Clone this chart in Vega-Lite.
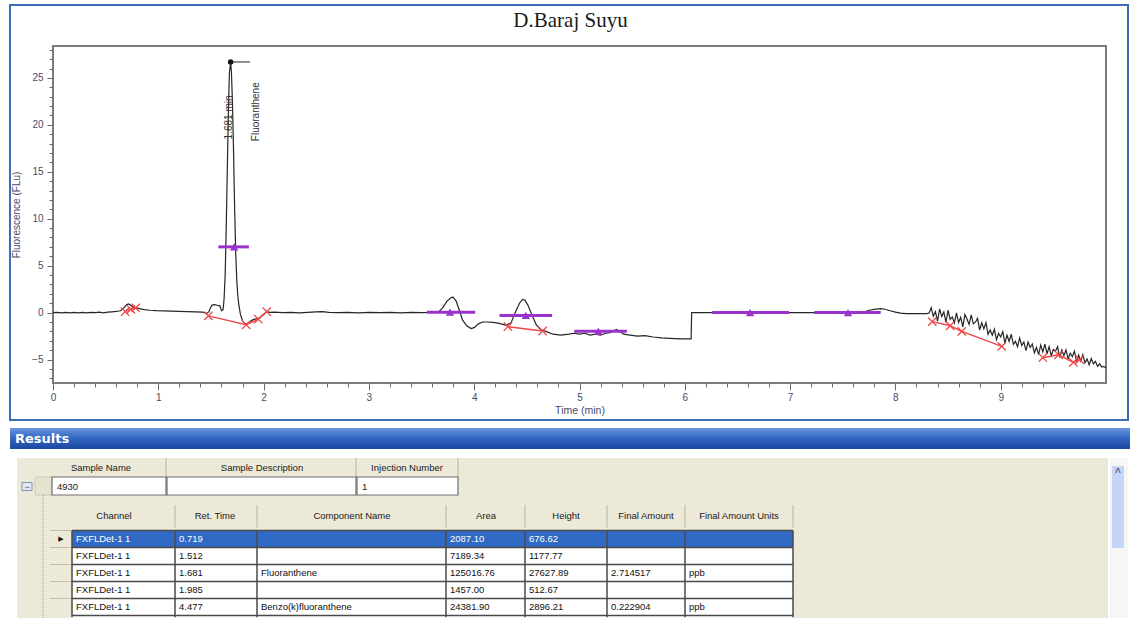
{
  "$schema": "https://vega.github.io/schema/vega-lite/v6.json",
  "background": "white",
  "padding": {"left": 9, "top": 4, "right": 0, "bottom": 0},
  "config": {"view": {"stroke": null}, "font": "Liberation Sans"},
  "bounds": "flush",
  "spacing": 45,
  "datasets": {
    "trace": [
      {"t":0,"v":0},{"t":0.04,"v":0.02},{"t":0.08,"v":-0.03},{"t":0.12,"v":0.02},{"t":0.16,"v":-0.02},{"t":0.2,"v":0.03},{"t":0.24,"v":-0.02},{"t":0.28,"v":0.02},{"t":0.32,"v":-0.03},{"t":0.36,"v":0.03},{"t":0.4,"v":0},{"t":0.44,"v":0.04},{"t":0.48,"v":-0.02},{"t":0.52,"v":0.04},{"t":0.56,"v":0.08},{"t":0.6,"v":0.12},{"t":0.64,"v":0.2},{"t":0.67,"v":0.45},{"t":0.7,"v":0.85},{"t":0.72,"v":0.92},{"t":0.74,"v":0.75},{"t":0.76,"v":0.55},{"t":0.79,"v":0.5},{"t":0.83,"v":0.4},{"t":0.87,"v":0.32},{"t":0.92,"v":0.25},{"t":0.98,"v":0.2},{"t":1.05,"v":0.18},{"t":1.12,"v":0.15},{"t":1.2,"v":0.12},{"t":1.28,"v":0.1},{"t":1.35,"v":0.08},{"t":1.42,"v":0.05},{"t":1.46,"v":-0.08},{"t":1.48,"v":0.1},{"t":1.495,"v":0.5},{"t":1.51,"v":0.8},{"t":1.535,"v":0.85},{"t":1.56,"v":0.78},{"t":1.585,"v":0.72},{"t":1.6,"v":0.2},{"t":1.615,"v":0.3},{"t":1.625,"v":1.5},{"t":1.635,"v":4},{"t":1.645,"v":9},{"t":1.655,"v":15},{"t":1.665,"v":21},{"t":1.675,"v":25.5},{"t":1.687,"v":26.7},{"t":1.695,"v":25.5},{"t":1.705,"v":22},{"t":1.715,"v":17},{"t":1.725,"v":11},{"t":1.735,"v":6.5},{"t":1.745,"v":3.5},{"t":1.755,"v":1.8},{"t":1.765,"v":0.8},{"t":1.78,"v":-0.2},{"t":1.8,"v":-0.9},{"t":1.83,"v":-1.25},{"t":1.86,"v":-1.05},{"t":1.9,"v":-0.75},{"t":1.94,"v":-0.65},{"t":1.97,"v":-0.5},{"t":2,"v":-0.2},{"t":2.03,"v":0.1},{"t":2.06,"v":0.02},{"t":2.1,"v":0.05},{"t":2.18,"v":0},{"t":2.26,"v":0.03},{"t":2.34,"v":-0.02},{"t":2.42,"v":0.03},{"t":2.5,"v":0.08},{"t":2.56,"v":0.1},{"t":2.62,"v":0.03},{"t":2.7,"v":0},{"t":2.8,"v":0.03},{"t":2.9,"v":-0.02},{"t":3,"v":0.02},{"t":3.1,"v":0},{"t":3.2,"v":0.02},{"t":3.3,"v":-0.02},{"t":3.4,"v":0.02},{"t":3.5,"v":0},{"t":3.6,"v":0.01},{"t":3.66,"v":0.05},{"t":3.7,"v":0.5},{"t":3.74,"v":1.2},{"t":3.78,"v":1.6},{"t":3.8,"v":1.65},{"t":3.83,"v":1.2},{"t":3.86,"v":0.2},{"t":3.89,"v":-0.8},{"t":3.93,"v":-1.4},{"t":3.97,"v":-1.7},{"t":4,"v":-1.6},{"t":4.04,"v":-1.2},{"t":4.08,"v":-1.0},{"t":4.12,"v":-1.0},{"t":4.18,"v":-1.05},{"t":4.24,"v":-1.15},{"t":4.3,"v":-1.35},{"t":4.35,"v":-1.1},{"t":4.39,"v":0},{"t":4.43,"v":1.0},{"t":4.46,"v":1.4},{"t":4.48,"v":1.35},{"t":4.51,"v":0.8},{"t":4.55,"v":-0.3},{"t":4.59,"v":-1.3},{"t":4.63,"v":-1.8},{"t":4.68,"v":-2.0},{"t":4.75,"v":-2.3},{"t":4.82,"v":-2.4},{"t":4.9,"v":-2.3},{"t":4.95,"v":-2.2},{"t":5,"v":-2.3},{"t":5.05,"v":-2.2},{"t":5.1,"v":-2.4},{"t":5.15,"v":-2.3},{"t":5.2,"v":-2.4},{"t":5.25,"v":-2.2},{"t":5.3,"v":-2.1},{"t":5.35,"v":-1.8},{"t":5.38,"v":-2.0},{"t":5.42,"v":-2.3},{"t":5.48,"v":-2.4},{"t":5.55,"v":-2.5},{"t":5.62,"v":-2.45},{"t":5.7,"v":-2.6},{"t":5.78,"v":-2.7},{"t":5.86,"v":-2.75},{"t":5.95,"v":-2.8},{"t":6.06,"v":-2.8},{"t":6.065,"v":0},{"t":6.2,"v":0},{"t":6.4,"v":0.01},{"t":6.6,"v":0},{"t":6.8,"v":0.01},{"t":7,"v":0},{"t":7.2,"v":0},{"t":7.4,"v":0.01},{"t":7.6,"v":0.02},{"t":7.7,"v":0.05},{"t":7.75,"v":0.25},{"t":7.8,"v":0.35},{"t":7.86,"v":0.42},{"t":7.9,"v":0.36},{"t":7.95,"v":0.2},{"t":8,"v":0.05},{"t":8.05,"v":-0.05},{"t":8.1,"v":-0.1},{"t":8.2,"v":-0.1},{"t":8.3,"v":-0.1},{"t":8.32,"v":-0.05},
      {"t":8.34,"v":0.52},{"t":8.36,"v":-0.39},{"t":8.38,"v":0.1},{"t":8.4,"v":-0.91},{"t":8.42,"v":0.39},{"t":8.44,"v":-0.42},{"t":8.46,"v":0.07},{"t":8.48,"v":-1.04},{"t":8.5,"v":0.25},{"t":8.52,"v":-0.73},{"t":8.54,"v":-0.46},{"t":8.56,"v":-1.1},{"t":8.58,"v":-0.03},{"t":8.6,"v":-1.06},{"t":8.62,"v":-0.49},{"t":8.64,"v":-1.52},{"t":8.66,"v":-0.21},{"t":8.68,"v":-0.69},{"t":8.7,"v":-1.27},{"t":8.72,"v":-0.25},{"t":8.74,"v":-1.18},{"t":8.76,"v":-1.02},{"t":8.78,"v":-0.61},{"t":8.8,"v":-1.85},{"t":8.82,"v":-1.09},{"t":8.84,"v":-1.73},{"t":8.86,"v":-1.07},{"t":8.88,"v":-2.31},{"t":8.9,"v":-1.85},{"t":8.92,"v":-2.39},{"t":8.94,"v":-1.78},{"t":8.96,"v":-2.89},{"t":8.98,"v":-2.22},{"t":9,"v":-2.6},{"t":9.02,"v":-2.03},{"t":9.04,"v":-3.26},{"t":9.06,"v":-2.39},{"t":9.08,"v":-3.07},{"t":9.1,"v":-2.3},{"t":9.12,"v":-3.38},{"t":9.14,"v":-3.06},{"t":9.16,"v":-3.64},{"t":9.18,"v":-2.72},{"t":9.2,"v":-3.5},{"t":9.22,"v":-3.13},{"t":9.24,"v":-4.06},{"t":9.26,"v":-3.14},{"t":9.28,"v":-3.72},{"t":9.3,"v":-3.35},{"t":9.32,"v":-4.28},{"t":9.34,"v":-3.71},{"t":9.36,"v":-4.47},{"t":9.38,"v":-3.45},{"t":9.4,"v":-4.18},{"t":9.42,"v":-3.36},{"t":9.44,"v":-4.39},{"t":9.46,"v":-3.62},{"t":9.48,"v":-4.6},{"t":9.5,"v":-3.93},{"t":9.52,"v":-4.11},{"t":9.54,"v":-3.64},{"t":9.56,"v":-4.78},{"t":9.58,"v":-3.99},{"t":9.6,"v":-4.6},{"t":9.62,"v":-3.96},{"t":9.64,"v":-4.92},{"t":9.66,"v":-4.33},{"t":9.68,"v":-4.69},{"t":9.7,"v":-4.1},{"t":9.72,"v":-5.16},{"t":9.74,"v":-4.52},{"t":9.76,"v":-5.14},{"t":9.78,"v":-4.47},{"t":9.8,"v":-5.35},{"t":9.82,"v":-4.93},{"t":9.84,"v":-5.56},{"t":9.86,"v":-4.89},{"t":9.88,"v":-5.47},{"t":9.9,"v":-5.2},{"t":9.92,"v":-5.73},{"t":9.94,"v":-5.46},{"t":9.96,"v":-5.81},{"t":9.98,"v":-5.73},{"t":10,"v":-5.9}
    ],
    "baselines": [
      {"seg":"a","t":0.685,"v":0.1},{"seg":"a","t":0.74,"v":0.35},{"seg":"a","t":0.785,"v":0.5},
      {"seg":"b","t":1.475,"v":-0.35},{"seg":"b","t":1.835,"v":-1.3},{"seg":"b","t":1.95,"v":-0.7},{"seg":"b","t":2.03,"v":0.1},
      {"seg":"c","t":4.32,"v":-1.5},{"seg":"c","t":4.65,"v":-1.96},
      {"seg":"d","t":8.35,"v":-0.96},{"seg":"d","t":8.52,"v":-1.4},{"seg":"d","t":8.63,"v":-2.0},{"seg":"d","t":9.01,"v":-3.6},
      {"seg":"e","t":9.4,"v":-4.8},{"seg":"e","t":9.55,"v":-4.5},{"seg":"e","t":9.69,"v":-5.3},{"seg":"e","t":9.75,"v":-5.0}
    ],
    "peaks": [
      {"start":1.57,"end":1.86,"apex":1.72,"level":7.0},
      {"start":3.55,"end":4.01,"apex":3.77,"level":0.05},
      {"start":4.24,"end":4.74,"apex":4.49,"level":-0.3},
      {"start":4.95,"end":5.45,"apex":5.18,"level":-2.0},
      {"start":6.26,"end":6.99,"apex":6.62,"level":0.0},
      {"start":7.23,"end":7.86,"apex":7.55,"level":0.0}
    ],
    "apex": [{"t":1.687,"v":26.7,"tEnd":1.87}],
    "labels": [
      {"t":1.672,"v":18.45,"text":"1.681 min"},
      {"t":1.928,"v":18.26,"text":"Fluoranthene"}
    ],
    "columns": [
      {"key":"channel","title":"Channel","left":3,"head":4,"right":5},
      {"key":"rt","title":"Ret. Time","left":5,"head":6,"right":7},
      {"key":"name","title":"Component Name","left":7,"head":8,"right":9},
      {"key":"area","title":"Area","left":9,"head":10,"right":11},
      {"key":"height","title":"Height","left":11,"head":12,"right":13},
      {"key":"amount","title":"Final Amount","left":13,"head":14,"right":15},
      {"key":"units","title":"Final Amount Units","left":15,"head":16,"right":17}
    ],
    "results": [
      {"row":0,"channel":"FXFLDet-1 1","rt":"0.719","name":"","area":"2087.10","height":"676.62","amount":"","units":""},
      {"row":1,"channel":"FXFLDet-1 1","rt":"1.512","name":"","area":"7189.34","height":"1177.77","amount":"","units":""},
      {"row":2,"channel":"FXFLDet-1 1","rt":"1.681","name":"Fluoranthene","area":"125016.76","height":"27627.89","amount":"2.714517","units":"ppb"},
      {"row":3,"channel":"FXFLDet-1 1","rt":"1.985","name":"","area":"1457.00","height":"512.67","amount":"","units":""},
      {"row":4,"channel":"FXFLDet-1 1","rt":"4.477","name":"Benzo(k)fluoranthene","area":"24381.90","height":"2896.21","amount":"0.222904","units":"ppb"}
    ],
    "sample": [
      {"title":"Sample Name","value":"4930","left":4,"center":5,"right":6},
      {"title":"Sample Description","value":"","left":7,"center":8,"right":9},
      {"title":"Injection Number","value":"1","left":10,"center":11,"right":12}
    ]
  },
  "vconcat": [
    {
      "width": 1053,
      "height": 337,
      "title": {"text": "D.Baraj Suyu", "font": "Liberation Serif", "fontSize": 21, "fontWeight": "normal", "color": "#1a1a1a", "anchor": "middle", "frame": "group", "dx": -9, "dy": 21, "baseline": "alphabetic", "offset": 19},
      "view": {"stroke": "#7b7b7b", "strokeWidth": 2},
      "resolve": {"axis": {"x": "independent", "y": "independent"}},
      "layer": [
        {
          "data": {"name": "trace"},
          "mark": {"type": "line", "color": "#262626", "strokeWidth": 1.2},
          "encoding": {
            "x": {"field": "t", "type": "quantitative",
              "scale": {"domain": [0, 10], "nice": false, "zero": false},
              "axis": {"orient": "bottom", "offset": 0,
                "values": [0,1,2,3,4,5,6,7,8,9], "format": "d",
                "tickSize": 7, "tickColor": "#6a6a6a", "domain": false, "grid": false,
                "labelFont": "Liberation Sans", "labelFontSize": 10, "labelColor": "#4a4a6a", "labelPadding": 2, "labelOverlap": false, "labelFlush": false,
                "title": "Time (min)", "titleFont": "Liberation Sans", "titleFontSize": 10.5, "titleFontWeight": "normal", "titleColor": "#4a4a6a", "titlePadding": 3}},
            "y": {"field": "v", "type": "quantitative",
              "scale": {"domain": [-7.5, 28.4], "nice": false, "zero": false},
              "axis": {"orient": "left", "offset": 0,
                "values": [-5,0,5,10,15,20,25], "format": "d",
                "tickSize": 6, "tickColor": "#6a6a6a", "domain": false, "grid": false,
                "labelFont": "Liberation Sans", "labelFontSize": 10, "labelColor": "#4a4a6a", "labelPadding": 4, "labelOverlap": false, "labelFlush": false,
                "title": "Fluorescence (FLu)", "titleFont": "Liberation Sans", "titleFontSize": 10, "titleFontWeight": "normal", "titleColor": "#4a4a6a", "titlePadding": 10}}
          }
        },
        {
          "data": {"name": "baselines"},
          "mark": {"type": "line", "color": "#F04848", "strokeWidth": 1.5},
          "encoding": {
            "x": {"field": "t", "type": "quantitative",
              "axis": {"orient": "bottom", "offset": 0,
                "values": [0.2,0.4,0.6,0.8,1.2,1.4,1.6,1.8,2.2,2.4,2.6,2.8,3.2,3.4,3.6,3.8,4.2,4.4,4.6,4.8,5.2,5.4,5.6,5.8,6.2,6.4,6.6,6.8,7.2,7.4,7.6,7.8,8.2,8.4,8.6,8.8,9.2,9.4,9.6,9.8],
                "tickSize": 4, "tickColor": "#6a6a6a", "domain": false, "grid": false, "labels": false, "title": null}},
            "y": {"field": "v", "type": "quantitative",
              "axis": {"orient": "left", "offset": 0,
                "values": [-7,-6,-4,-3,-2,-1,1,2,3,4,6,7,8,9,11,12,13,14,16,17,18,19,21,22,23,24,26,27,28],
                "tickSize": 4, "tickColor": "#6a6a6a", "domain": false, "grid": false, "labels": false, "title": null}},
            "detail": {"field": "seg"}
          }
        },
        {
          "data": {"name": "baselines"},
          "mark": {"type": "point", "shape": "M-1,-1L1,1M1,-1L-1,1", "filled": false, "color": "#F04848", "strokeWidth": 1.3, "size": 70, "opacity": 1},
          "encoding": {
            "x": {"field": "t", "type": "quantitative", "axis": null},
            "y": {"field": "v", "type": "quantitative", "axis": null}
          }
        },
        {
          "data": {"name": "peaks"},
          "mark": {"type": "rule", "color": "#9933CC", "strokeWidth": 3},
          "encoding": {
            "x": {"field": "start", "type": "quantitative", "axis": null},
            "x2": {"field": "end"},
            "y": {"field": "level", "type": "quantitative", "axis": null}
          }
        },
        {
          "data": {"name": "peaks"},
          "mark": {"type": "point", "shape": "triangle-up", "filled": true, "color": "#9933CC", "size": 70, "opacity": 1},
          "encoding": {
            "x": {"field": "apex", "type": "quantitative", "axis": null},
            "y": {"field": "level", "type": "quantitative", "axis": null}
          }
        },
        {
          "data": {"name": "apex"},
          "mark": {"type": "rule", "color": "#222222", "strokeWidth": 1},
          "encoding": {
            "x": {"field": "t", "type": "quantitative", "axis": null},
            "x2": {"field": "tEnd"},
            "y": {"field": "v", "type": "quantitative", "axis": null}
          }
        },
        {
          "data": {"name": "apex"},
          "mark": {"type": "point", "filled": true, "color": "#111111", "size": 30, "opacity": 1},
          "encoding": {
            "x": {"field": "t", "type": "quantitative", "axis": null},
            "y": {"field": "v", "type": "quantitative", "axis": null}
          }
        },
        {
          "data": {"name": "labels"},
          "mark": {"type": "text", "angle": 270, "align": "left", "baseline": "middle", "font": "Liberation Sans", "fontSize": 10, "color": "#333333"},
          "encoding": {
            "x": {"field": "t", "type": "quantitative", "axis": null},
            "y": {"field": "v", "type": "quantitative", "axis": null},
            "text": {"field": "text"}
          }
        }
      ]
    },
    {
      "width": 1053,
      "height": 190,
      "view": {"stroke": null},
      "data": {"values": [{"k": 1}]},
      "resolve": {"scale": {"x": "independent", "y": "independent"}},
      "layer": [
        {
          "layer": [
            {"mark": {"type": "rect", "fill": "#ECE9D8"},
             "encoding": {"x": {"datum": 1, "type": "quantitative", "scale": {"domain": [0,1,2,3,4,5,6,7], "range": [-43,-36,1055,1057,1059,1071,1075,1077], "nice": false, "zero": false}, "axis": null}, "x2": {"datum": 2},
                          "y": {"datum": 5, "type": "quantitative", "scale": {"domain": [0,1,2,3,4,5,6,7,8,9], "range": [-423,-8,0,21,25,30,38,52,120,190], "nice": false, "zero": false}, "axis": null}, "y2": {"datum": 9}}},
            {"mark": {"type": "rect", "fill": "#F6F6F2"},
             "encoding": {"x": {"datum": 3, "type": "quantitative", "axis": null}, "x2": {"datum": 6},
                          "y": {"datum": 5, "type": "quantitative", "axis": null}, "y2": {"datum": 9}}},
            {"mark": {"type": "rect", "fill": "#C4D5F8"},
             "encoding": {"x": {"datum": 4, "type": "quantitative", "axis": null}, "x2": {"datum": 5},
                          "y": {"datum": 6, "type": "quantitative", "axis": null}, "y2": {"datum": 8}}},
            {"mark": {"type": "text", "text": "^", "color": "#4D6185", "fontSize": 10, "fontWeight": "bold", "align": "center", "baseline": "middle"},
             "encoding": {"x": {"datum": 4.5, "type": "quantitative", "axis": null},
                          "y": {"datum": 6.5, "type": "quantitative", "axis": null}}},
            {"mark": {"type": "rect", "fill": {"x1": 0, "y1": 0, "x2": 0, "y2": 1, "gradient": "linear", "stops": [{"offset": 0, "color": "#6A96DC"}, {"offset": 0.45, "color": "#3469C6"}, {"offset": 1, "color": "#1B47A0"}]}},
             "encoding": {"x": {"datum": 0, "type": "quantitative", "axis": null}, "x2": {"datum": 7},
                          "y": {"datum": 2, "type": "quantitative", "axis": null}, "y2": {"datum": 3}}},
            {"mark": {"type": "text", "text": "Results", "color": "#ffffff", "font": "DejaVu Sans", "fontSize": 13, "fontWeight": "bold", "align": "left", "baseline": "middle", "dx": 5},
             "encoding": {"x": {"datum": 0, "type": "quantitative", "axis": null},
                          "y": {"datum": 2.5, "type": "quantitative", "axis": null}}},
            {"mark": {"type": "rect", "fill": "#ffffff", "fillOpacity": 0, "stroke": "#3F6DB5", "strokeWidth": 2},
             "encoding": {"x": {"datum": 0, "type": "quantitative", "axis": null}, "x2": {"datum": 6},
                          "y": {"datum": 0, "type": "quantitative", "axis": null}, "y2": {"datum": 1}}}
          ]
        },
        {
          "layer": [
            {"data": {"name": "sample"},
             "mark": {"type": "rule", "color": "#C9C5B1", "strokeWidth": 1.5},
             "encoding": {"x": {"field": "right", "type": "quantitative", "scale": {"domain": [0,1,2,3,4,5,6,7,8,9,10,11,12], "range": [-31,-26,-21,-18,-1,48,113,114,209,303,304,354,405], "nice": false, "zero": false}, "axis": null},
                          "y": {"datum": 0, "type": "quantitative", "scale": {"domain": [0,1,2,3,4,5,6], "range": [30,40,49,54.5,58.5,62.5,67], "nice": false, "zero": false}, "axis": null}, "y2": {"datum": 2}}},
            {"data": {"name": "sample"},
             "mark": {"type": "text", "align": "center", "baseline": "middle", "fontSize": 9.5, "color": "#1a1a1a"},
             "encoding": {"x": {"field": "center", "type": "quantitative", "axis": null},
                          "y": {"datum": 1, "type": "quantitative", "axis": null},
                          "text": {"field": "title"}}},
            {"mark": {"type": "rect", "fill": "#E6E2CF", "stroke": "#CFCBB7", "strokeWidth": 1},
             "encoding": {"x": {"datum": 3, "type": "quantitative", "axis": null}, "x2": {"datum": 4},
                          "y": {"datum": 2, "type": "quantitative", "axis": null}, "y2": {"datum": 6}}},
            {"data": {"name": "sample"},
             "mark": {"type": "rect", "fill": "#ffffff", "stroke": "#6F6F6F", "strokeWidth": 1.2},
             "encoding": {"x": {"field": "left", "type": "quantitative", "axis": null}, "x2": {"field": "right"},
                          "y": {"datum": 2, "type": "quantitative", "axis": null}, "y2": {"datum": 6}}},
            {"data": {"name": "sample"},
             "mark": {"type": "text", "align": "left", "baseline": "middle", "fontSize": 9.5, "color": "#1a1a1a", "dx": 5},
             "encoding": {"x": {"field": "left", "type": "quantitative", "axis": null},
                          "y": {"datum": 4, "type": "quantitative", "axis": null},
                          "text": {"field": "value"}}},
            {"mark": {"type": "rect", "fill": "#E3E9F3", "stroke": "#8293B3", "strokeWidth": 1},
             "encoding": {"x": {"datum": 0, "type": "quantitative", "axis": null}, "x2": {"datum": 2},
                          "y": {"datum": 3, "type": "quantitative", "axis": null}, "y2": {"datum": 5}}},
            {"mark": {"type": "text", "text": "−", "align": "center", "baseline": "middle", "fontSize": 9, "color": "#4A5A7A"},
             "encoding": {"x": {"datum": 1, "type": "quantitative", "axis": null},
                          "y": {"datum": 4, "type": "quantitative", "axis": null}}}
          ]
        },
        {
          "layer": [
            {"mark": {"type": "rect", "fill": "#ffffff"},
             "encoding": {"x": {"datum": 3, "type": "quantitative", "scale": {"domain": [0,1,2,3,4,5,6,7,8,9,10,11,12,13,14,15,16,17], "range": [-10,-3,8,19,61,122,162,204,299,393,433,472,513,554,593,632,686,740], "nice": false, "zero": false}, "axis": null}, "x2": {"datum": 17},
                          "y": {"datum": 0, "type": "quantitative", "scale": {"domain": [-3,-2,-1,0,5.14], "range": [67,77,88,102.5,189.88], "nice": false, "zero": false}, "axis": null}, "y2": {"datum": 5.14}}},
            {"mark": {"type": "rect", "fill": "#316AC5"},
             "encoding": {"x": {"datum": 3, "type": "quantitative", "axis": null}, "x2": {"datum": 17},
                          "y": {"datum": 0, "type": "quantitative", "axis": null}, "y2": {"datum": 1}}},
            {"mark": {"type": "rule", "color": "#9A9A9A", "strokeWidth": 1, "strokeDash": [1, 1]},
             "encoding": {"x": {"datum": 0, "type": "quantitative", "axis": null},
                          "y": {"datum": -3, "type": "quantitative", "axis": null}, "y2": {"datum": 5.14}}},
            {"data": {"name": "results"},
             "mark": {"type": "rule", "color": "#C2BEAA", "strokeWidth": 1},
             "encoding": {"x": {"datum": 1, "type": "quantitative", "axis": null}, "x2": {"datum": 3},
                          "y": {"field": "row", "type": "quantitative", "axis": null}}},
            {"data": {"name": "results"},
             "mark": {"type": "rule", "color": "#4a4a4a", "strokeWidth": 1.5},
             "encoding": {"x": {"datum": 3, "type": "quantitative", "axis": null}, "x2": {"datum": 17},
                          "y": {"field": "row", "type": "quantitative", "axis": null}}},
            {"mark": {"type": "rule", "color": "#4a4a4a", "strokeWidth": 1.5},
             "encoding": {"x": {"datum": 3, "type": "quantitative", "axis": null}, "x2": {"datum": 17},
                          "y": {"datum": 5, "type": "quantitative", "axis": null}}},
            {"data": {"name": "columns"},
             "mark": {"type": "rule", "color": "#4a4a4a", "strokeWidth": 1.5},
             "encoding": {"x": {"field": "left", "type": "quantitative", "axis": null},
                          "y": {"datum": 0, "type": "quantitative", "axis": null}, "y2": {"datum": 5.1}}},
            {"mark": {"type": "rule", "color": "#4a4a4a", "strokeWidth": 1.5},
             "encoding": {"x": {"datum": 17, "type": "quantitative", "axis": null},
                          "y": {"datum": 0, "type": "quantitative", "axis": null}, "y2": {"datum": 5.1}}},
            {"data": {"name": "columns"},
             "mark": {"type": "rule", "color": "#C9C5B1", "strokeWidth": 1.5},
             "encoding": {"x": {"field": "right", "type": "quantitative", "axis": null},
                          "y": {"datum": -2, "type": "quantitative", "axis": null}, "y2": {"datum": -0.2}}},
            {"data": {"name": "columns"},
             "mark": {"type": "text", "align": "center", "baseline": "middle", "fontSize": 9.5, "color": "#1a1a1a"},
             "encoding": {"x": {"field": "head", "type": "quantitative", "axis": null},
                          "y": {"datum": -1, "type": "quantitative", "axis": null},
                          "text": {"field": "title"}}},
            {"data": {"name": "results"},
             "transform": [
               {"fold": ["channel", "rt", "name", "area", "height", "amount", "units"], "as": ["key", "val"]},
               {"lookup": "key", "from": {"data": {"name": "columns"}, "key": "key", "fields": ["left"]}}
             ],
             "mark": {"type": "text", "align": "left", "baseline": "middle", "fontSize": 9.5, "dx": 4, "dy": 8.5},
             "encoding": {"x": {"field": "left", "type": "quantitative", "axis": null},
                          "y": {"field": "row", "type": "quantitative", "axis": null},
                          "text": {"field": "val"},
                          "color": {"condition": {"test": "datum.row === 0", "value": "#ffffff"}, "value": "#111111"}}},
            {"mark": {"type": "text", "text": "▶", "font": "DejaVu Sans", "align": "center", "baseline": "middle", "fontSize": 7, "color": "#111111", "dy": 8.5},
             "encoding": {"x": {"datum": 2, "type": "quantitative", "axis": null},
                          "y": {"datum": 0, "type": "quantitative", "axis": null}}}
          ]
        }
      ]
    }
  ]
}
